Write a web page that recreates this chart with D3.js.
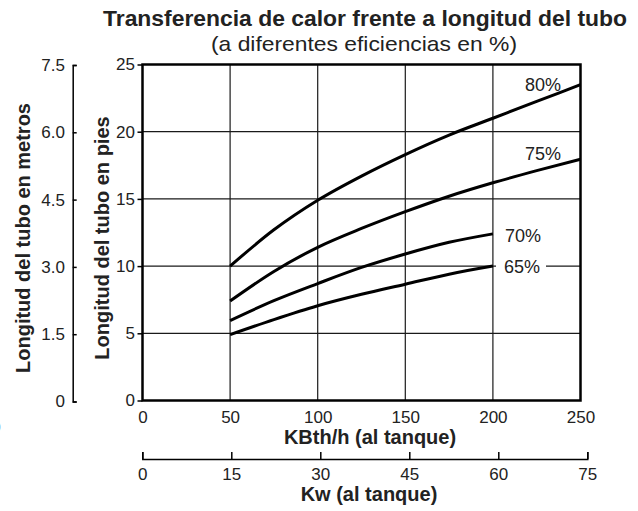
<!DOCTYPE html>
<meta charset="utf-8">
<body style="margin:0;background:#fff">
<svg width="638" height="511"></svg>
<script src="https://d3js.org/d3.v7.min.js"></script>
<script>
  // values
  var kbth = [50, 75, 100, 125, 150, 175, 200, 225, 250]
  var eff80 = [10.0, 12.7, 14.9, 16.7, 18.3, 19.75, 21.0, 22.25, 23.5]
  var eff75 = [7.4, 9.6, 11.4, 12.8, 14.05, 15.2, 16.2, 17.1, 17.95]
  var eff70 = [5.95, 7.43, 8.7, 9.9, 10.9, 11.77, 12.4]
  var eff65 = [4.9, 6.02, 7.05, 7.9, 8.65, 9.4, 10.0]
  var seriesNames = ['80%', '75%', '70%', '65%']

  var xTicks = [0, 50, 100, 150, 200, 250]
  var feetTicks = [0, 5, 10, 15, 20, 25]
  var meterTicks = [0, 1.5, 3.0, 4.5, 6.0, 7.5]
  var kwTicks = [0, 15, 30, 45, 60, 75]

  var font = '"Liberation Sans", Arial, sans-serif'
  var svg = d3.select('svg').style('font-family', font)

  var x = d3.scaleLinear().domain([0, 250]).range([142.5, 580.5])
  var y = d3.scaleLinear().domain([0, 25]).range([400.5, 64.5])
  var ym = d3.scaleLinear().domain([0, 7.5]).range([401.5, 65])
  var kw = d3.scaleLinear().domain([0, 75]).range([142.3, 587.3])

  // grid
  var grid = svg.append('g').attr('stroke', '#1a1a1a').attr('stroke-width', 1.2)
  grid.selectAll('line.v').data([50, 100, 150, 200]).enter().append('line')
    .attr('x1', d => x(d)).attr('x2', d => x(d))
    .attr('y1', y(0)).attr('y2', y(25))
  grid.selectAll('line.h').data([5, 10, 15, 20]).enter().append('line')
    .attr('x1', x(0)).attr('x2', x(250))
    .attr('y1', d => y(d)).attr('y2', d => y(d))

  // curves
  var series = [eff80, eff75, eff70, eff65]
  var line = d3.line()
    .x((d, i) => x(kbth[i]))
    .y(d => y(d))
    .curve(d3.curveMonotoneX)
  svg.append('g').selectAll('path').data(series).enter().append('path')
    .attr('d', d => line(d))
    .attr('fill', 'none')
    .attr('stroke', '#000')
    .attr('stroke-width', 3)

  // frame
  svg.append('rect')
    .attr('x', x(0)).attr('y', y(25))
    .attr('width', x(250) - x(0)).attr('height', y(0) - y(25))
    .attr('fill', 'none').attr('stroke', '#000').attr('stroke-width', 2.5)

  // curve labels
  var labelPos = [[525, 90.5], [525, 160], [505, 241.5], [504, 273]]
  svg.append('rect').attr('x', 496).attr('y', y(10) - 4).attr('width', 50).attr('height', 8).attr('fill', '#fff')
  svg.append('g').selectAll('text').data(seriesNames).enter().append('text')
    .attr('x', (d, i) => labelPos[i][0])
    .attr('y', (d, i) => labelPos[i][1])
    .attr('font-size', 18)
    .attr('fill', '#222')
    .text(d => d)

  function styleAxis(g) {
    g.selectAll('text').attr('font-family', font).attr('font-size', 17).attr('fill', '#222')
    g.selectAll('line,path').attr('stroke', '#000').attr('stroke-width', 1.5)
  }

  // feet axis
  svg.append('g').attr('transform', 'translate(' + x(0) + ',0)')
    .call(d3.axisLeft(y).tickValues(feetTicks).tickSize(5).tickPadding(2.5).tickFormat(d3.format('d')))
    .call(g => g.select('.domain').remove())
    .call(styleAxis)

  // meters axis
  svg.append('g').attr('transform', 'translate(72.7,0)')
    .call(d3.axisLeft(ym).tickValues(meterTicks).tickSizeInner(-4).tickSizeOuter(-4).tickPadding(7.7)
      .tickFormat(d => d === 0 ? '0' : d3.format('.1f')(d)))
    .call(styleAxis)

  // x axis labels
  svg.append('g').attr('transform', 'translate(0,' + y(0) + ')')
    .call(d3.axisBottom(x).tickValues(xTicks).tickSize(0).tickPadding(10))
    .call(g => g.select('.domain').remove())
    .call(styleAxis)

  // Kw axis
  svg.append('g').attr('transform', 'translate(0,459)')
    .call(d3.axisBottom(kw).tickValues(kwTicks).tickSizeInner(-7).tickSizeOuter(-7).tickPadding(9))
    .call(styleAxis)

  // titles
  svg.append('text').attr('x', 103).attr('y', 26)
    .attr('font-size', 22.5).attr('font-weight', 'bold').attr('fill', '#222')
    .attr('textLength', 524).attr('lengthAdjust', 'spacingAndGlyphs')
    .text('Transferencia de calor frente a longitud del tubo')
  svg.append('text').attr('x', 211).attr('y', 50.5)
    .attr('font-size', 21).attr('fill', '#222')
    .attr('textLength', 306).attr('lengthAdjust', 'spacingAndGlyphs')
    .text('(a diferentes eficiencias en %)')

  svg.append('text').attr('x', 370).attr('y', 443.5).attr('text-anchor', 'middle')
    .attr('font-size', 20).attr('font-weight', 'bold').attr('fill', '#222')
    .text('KBth/h (al tanque)')
  svg.append('text').attr('x', 369).attr('y', 501).attr('text-anchor', 'middle')
    .attr('font-size', 20).attr('font-weight', 'bold').attr('fill', '#222')
    .text('Kw (al tanque)')

  svg.append('text').attr('transform', 'translate(29.5,238) rotate(-90)').attr('text-anchor', 'middle')
    .attr('font-size', 20).attr('font-weight', 'bold').attr('fill', '#222')
    .text('Longitud del tubo en metros')
  svg.append('text').attr('transform', 'translate(108.5,238) rotate(-90)').attr('text-anchor', 'middle')
    .attr('font-size', 20).attr('font-weight', 'bold').attr('fill', '#222')
    .text('Longitud del tubo en pies')

  // clipped fragment at the left edge of the reference
  svg.append('text').attr('x', -4).attr('y', 431).attr('font-size', 15).attr('fill', '#222').text(')')
</script>
